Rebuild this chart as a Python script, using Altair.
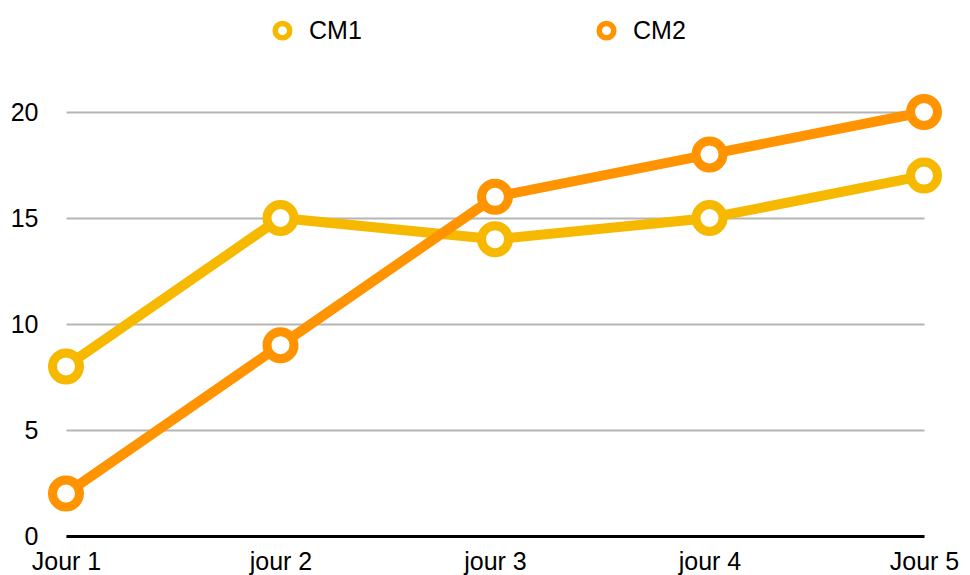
import altair as alt
import pandas as pd

days = ["Jour 1", "jour 2", "jour 3", "jour 4", "Jour 5"]
cm1 = [8, 15, 14, 15, 17]
cm2 = [2, 9, 16, 18, 20]
series = ["CM1", "CM2"]
colors = ["#F6B900", "#FF9300"]
y_ticks = [0, 5, 10, 15, 20]

rows = []
for s, vals in zip(series, [cm1, cm2]):
    for i, (d, v) in enumerate(zip(days, vals)):
        rows.append({"day": d, "value": v, "series": s, "order": i})
df = pd.DataFrame(rows)

FONT = "Liberation Sans"

x = alt.X(
    "day:N",
    sort=days,
    scale=alt.Scale(type="point", padding=0),
    axis=alt.Axis(
        title=None, labelAngle=0, ticks=False, grid=False,
        domainColor="black", domainWidth=3,
        labelFontSize=25, labelFont=FONT, labelColor="black",
        labelPadding=13, zindex=1,
    ),
)
y = alt.Y(
    "value:Q",
    scale=alt.Scale(domain=[0, 20]),
    axis=alt.Axis(
        title=None, values=y_ticks, ticks=False, domain=False,
        gridColor="#B5B5B5", gridWidth=2,
        labelFontSize=25, labelFont=FONT, labelColor="black",
        labelPadding=28,
    ),
)
color = alt.Color(
    "series:N",
    scale=alt.Scale(domain=series, range=colors),
    legend=alt.Legend(
        title=None, orient="none", direction="horizontal",
        legendX=204, legendY=-94,
        symbolType="circle", symbolSize=210, symbolStrokeWidth=5.5,
        symbolFillColor="white",
        labelFontSize=25, labelFont=FONT, labelColor="black",
        labelOffset=14, columnPadding=226,
    ),
)

base = alt.Chart(df)
lines = base.mark_line(strokeWidth=10).encode(x=x, y=y, color=color, order="order:Q")
points = base.mark_point(filled=False, fill="white", fillOpacity=1, opacity=1,
                         size=729, strokeWidth=9).encode(x=x, y=y, color=color)

chart = alt.layer(lines, points).properties(
    width=858, height=424,
    autosize=alt.AutoSizeParams(type="none"),
    padding={"left": 58, "top": 104, "right": 38, "bottom": 40},
).configure_view(stroke=None)

chart.save("out.html", embed_options={"renderer": "svg", "actions": False})
